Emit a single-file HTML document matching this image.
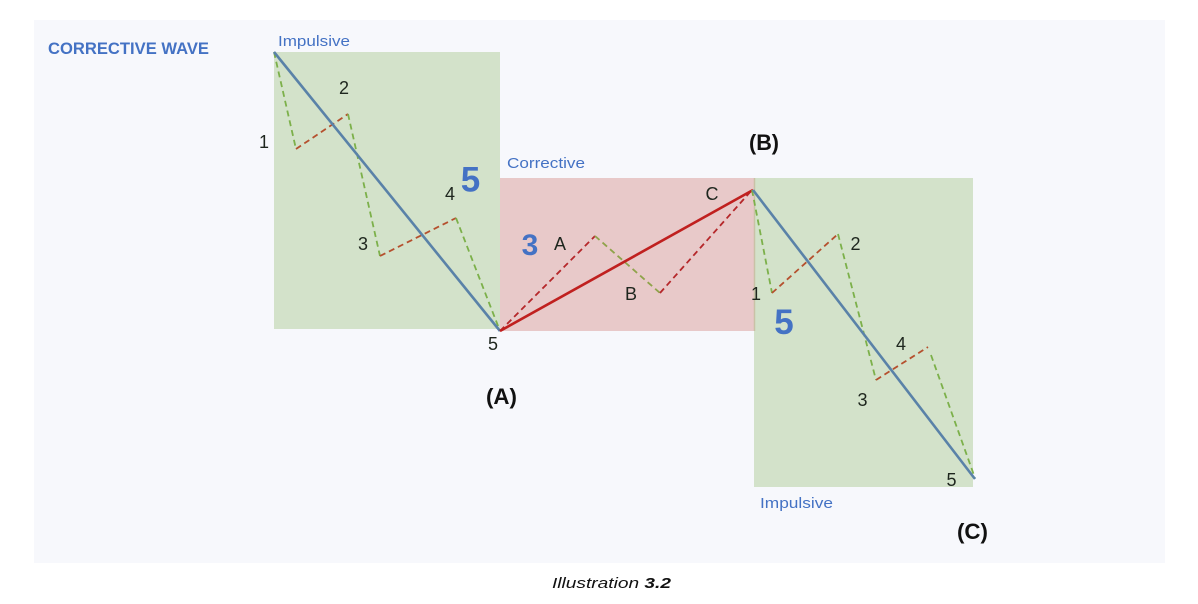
<!DOCTYPE html>
<html>
<head>
<meta charset="utf-8">
<style>
  html, body { margin: 0; padding: 0; background: #ffffff; }
  svg { display: block; }
  text { font-family: "Liberation Sans", "DejaVu Sans", sans-serif; }
</style>
</head>
<body>
<svg width="1198" height="604" viewBox="0 0 1198 604" xmlns="http://www.w3.org/2000/svg">
  <!-- page -->
  <rect x="0" y="0" width="1198" height="604" fill="#ffffff"/>
  <!-- panel -->
  <rect x="34" y="20" width="1131" height="543" fill="#F7F8FC"/>

  <!-- boxes -->
  <rect x="274" y="52" width="226" height="277" fill="#D3E2CA"/>
  <rect x="500" y="178" width="255" height="153" fill="#E8C9C9"/>
  <rect x="754" y="178" width="219" height="309" fill="#D3E2CA"/>
  <line x1="754.5" y1="178" x2="754.5" y2="331" stroke="#C9C2A6" stroke-width="1.5"/>

  <!-- First impulsive wave -->
  <g fill="none" stroke-width="1.8" stroke-dasharray="6,4">
    <polyline points="274,52 296,149" stroke="#7CB04A"/>
    <polyline points="296,149 348,114" stroke="#B5502E"/>
    <polyline points="348,114 380,256" stroke="#7CB04A"/>
    <polyline points="380,256 456,218" stroke="#B5502E"/>
    <polyline points="456,218 500,331" stroke="#7CB04A"/>
  </g>
  <line x1="274" y1="52" x2="500" y2="331" stroke="#5A82A8" stroke-width="2.6"/>

  <!-- Corrective wave -->
  <g fill="none" stroke-width="1.8" stroke-dasharray="6,4">
    <polyline points="500,331 595,236" stroke="#B5272A"/>
    <polyline points="595,236 660,293" stroke="#8FA34A"/>
    <polyline points="660,293 752,190" stroke="#B5272A"/>
  </g>
  <line x1="500" y1="331" x2="753" y2="190" stroke="#C0201F" stroke-width="2.6"/>

  <!-- Second impulsive wave -->
  <g fill="none" stroke-width="1.8" stroke-dasharray="6,4">
    <polyline points="752,190 772,293" stroke="#7CB04A"/>
    <polyline points="772,293 838,234" stroke="#B5502E"/>
    <polyline points="838,234 876,380" stroke="#7CB04A"/>
    <polyline points="876,380 928,347" stroke="#B5502E"/>
    <polyline points="931,355 975,478" stroke="#7CB04A"/>
  </g>
  <line x1="753" y1="190" x2="975" y2="479" stroke="#5A82A8" stroke-width="2.6"/>

  <!-- Titles / section labels -->
  <text x="48" y="54" font-size="17" font-weight="bold" fill="#4472C4" textLength="161" lengthAdjust="spacingAndGlyphs">CORRECTIVE WAVE</text>
  <text x="278" y="46" font-size="15" fill="#4472C4" textLength="72" lengthAdjust="spacingAndGlyphs">Impulsive</text>
  <text x="507" y="168" font-size="15" fill="#4472C4" textLength="78" lengthAdjust="spacingAndGlyphs">Corrective</text>
  <text x="760" y="508" font-size="15" fill="#4472C4" textLength="73" lengthAdjust="spacingAndGlyphs">Impulsive</text>

  <!-- big counts -->
  <text x="470.5" y="191.5" font-size="35" font-weight="bold" fill="#4472C4" text-anchor="middle">5</text>
  <text x="530" y="255" font-size="30" font-weight="bold" fill="#4472C4" text-anchor="middle">3</text>
  <text x="784" y="334" font-size="35" font-weight="bold" fill="#4472C4" text-anchor="middle">5</text>

  <!-- wave point labels -->
  <g font-size="18" fill="#1E261E" text-anchor="middle">
    <text x="264" y="148">1</text>
    <text x="344" y="94">2</text>
    <text x="363" y="250">3</text>
    <text x="450" y="200">4</text>
    <text x="493" y="350">5</text>

    <text x="560" y="250">A</text>
    <text x="631" y="300">B</text>
    <text x="712" y="200">C</text>

    <text x="756" y="300">1</text>
    <text x="855.5" y="250">2</text>
    <text x="862.5" y="406">3</text>
    <text x="901" y="350">4</text>
    <text x="951.5" y="486">5</text>
  </g>

  <!-- (A) (B) (C) -->
  <g font-size="22" font-weight="bold" fill="#111111">
    <text x="486" y="404" textLength="31" lengthAdjust="spacingAndGlyphs">(A)</text>
    <text x="749" y="150" textLength="30" lengthAdjust="spacingAndGlyphs">(B)</text>
    <text x="957" y="539" textLength="31" lengthAdjust="spacingAndGlyphs">(C)</text>
  </g>

  <!-- caption -->
  <text x="552" y="588" font-size="15" font-style="italic" fill="#111111" textLength="119" lengthAdjust="spacingAndGlyphs">Illustration <tspan font-weight="bold">3.2</tspan></text>
</svg>
</body>
</html>
